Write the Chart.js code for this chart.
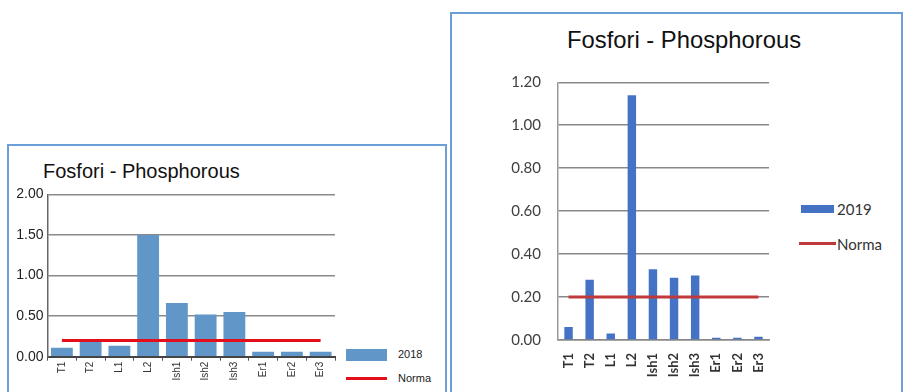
<!DOCTYPE html>
<html>
<head>
<meta charset="utf-8">
<script src="https://cdn.jsdelivr.net/npm/chart.js@4.4.1/dist/chart.umd.min.js"></script>
<style>
  body { margin: 0; width: 904px; height: 392px; overflow: hidden; background: #fff; position: relative; }
  .box { position: absolute; border: 2px solid #6a9fd8; box-sizing: border-box; }
  .title { position: absolute; font-family: "Liberation Sans", Arial, sans-serif; color: #111; white-space: nowrap; }
  .lg { position: absolute; }
  .lt { position: absolute; white-space: nowrap; color: #222; }
  canvas { position: absolute; }
</style>
</head>
<body>
<div class="box" style="left:7px; top:144px; width:440px; height:270px;"></div>
<div class="box" style="left:450px; top:12px; width:453px; height:400px;"></div>

<div class="title" style="left:43px; top:160px; font-size:20px;">Fosfori - Phosphorous</div>
<div class="title" style="left:567px; top:26px; font-size:23.8px;">Fosfori - Phosphorous</div>

<canvas id="chart2018" width="330" height="207" style="left:10px; top:185px;"></canvas>
<canvas id="chart2019" width="280" height="322" style="left:500px; top:70px;"></canvas>

<!-- legends -->
<div class="lg" style="left:346px; top:349px; width:41px; height:12px; background:#6097c8;"></div>
<div class="lt" style="left:398px; top:348px; font:11px 'Liberation Sans', Arial, sans-serif;">2018</div>
<div class="lg" style="left:346px; top:377px; width:41px; height:3px; background:#e3101b;"></div>
<div class="lt" style="left:398px; top:372px; font:11px 'Liberation Sans', Arial, sans-serif;">Norma</div>

<div class="lg" style="left:801px; top:205px; width:33px; height:8px; background:#4472c4;"></div>
<div class="lt" style="left:837px; top:200px; font:15px Lato, sans-serif; color:#333;">2019</div>
<div class="lg" style="left:799px; top:242px; width:37px; height:3px; background:#c0393b;"></div>
<div class="lt" style="left:837px; top:235px; font:15px Lato, sans-serif; color:#333;">Norma</div>

<script>
var categories = ['T1', 'T2', 'L1', 'L2', 'Ish1', 'Ish2', 'Ish3', 'Er1', 'Er2', 'Er3'];
var values2018 = [0.11, 0.19, 0.135, 1.5, 0.66, 0.52, 0.55, 0.06, 0.06, 0.06];
var values2019 = [0.06, 0.28, 0.03, 1.14, 0.33, 0.29, 0.30, 0.01, 0.01, 0.015];
var norma = [0.2, 0.2, 0.2, 0.2, 0.2, 0.2, 0.2, 0.2, 0.2, 0.2];
var ticks2018 = [0, 0.5, 1.0, 1.5, 2.0];
var ticks2019 = [0, 0.2, 0.4, 0.6, 0.8, 1.0, 1.2];

Chart.defaults.animation = false;

// 2018 chart (left)
new Chart(document.getElementById('chart2018'), {
  type: 'bar',
  data: {
    labels: categories,
    datasets: [
      {
        type: 'line',
        label: 'Norma',
        data: norma,
        borderColor: '#e3101b',
        borderWidth: 3,
        pointRadius: 0,
        order: 0
      },
      {
        label: '2018',
        data: values2018,
        backgroundColor: '#6097c8',
        barPercentage: 0.76,
        categoryPercentage: 1,
        order: 1
      }
    ]
  },
  options: {
    responsive: false,
    layout: { padding: { top: 9.3, right: 5, left: 0, bottom: 0 } },
    plugins: { legend: { display: false }, tooltip: { enabled: false } },
    scales: {
      x: {
        grid: { display: true, drawOnChartArea: false, drawTicks: true, tickLength: 4, color: '#555', offset: true },
        border: { color: '#444', width: 2 },
        ticks: { minRotation: 90, maxRotation: 90, padding: 1, color: '#333', font: { family: 'Liberation Sans', size: 10 } },
        afterFit: function(scale) { scale.height = 35.3; }
      },
      y: {
        min: 0,
        max: 2,
        afterBuildTicks: function(scale) { scale.ticks = ticks2018.map(function(v) { return { value: v }; }); },
        ticks: { padding: 0, color: '#222', font: { family: 'Liberation Sans', size: 14 },
          callback: function(v) { return v.toFixed(2); } },
        // transparent tick marks keep the labels away from the axis
        grid: { color: '#8a8a8a', lineWidth: 1.5, drawTicks: true, tickLength: 4, tickColor: 'rgba(0,0,0,0)' },
        border: { color: '#666', width: 1.5 },
        afterFit: function(scale) { scale.width = 37.5; }
      }
    }
  }
});

// 2019 chart (right)
new Chart(document.getElementById('chart2019'), {
  type: 'bar',
  data: {
    labels: categories,
    datasets: [
      {
        type: 'line',
        label: 'Norma',
        data: norma,
        borderColor: '#c0393b',
        borderWidth: 3,
        pointRadius: 0,
        order: 0
      },
      {
        label: '2019',
        data: values2019,
        backgroundColor: '#4472c4',
        barPercentage: 0.4,
        categoryPercentage: 1,
        order: 1
      }
    ]
  },
  options: {
    responsive: false,
    layout: { padding: { top: 12.3, right: 11, left: 0, bottom: 0 } },
    plugins: { legend: { display: false }, tooltip: { enabled: false } },
    scales: {
      x: {
        grid: { display: false },
        border: { color: '#888', width: 1.5 },
        ticks: { minRotation: 90, maxRotation: 90, padding: 5, color: '#333', font: { family: 'Lato', size: 13, weight: 'bold' } },
        afterFit: function(scale) { scale.height = 52; }
      },
      y: {
        min: 0,
        max: 1.2,
        afterBuildTicks: function(scale) { scale.ticks = ticks2019.map(function(v) { return { value: v }; }); },
        ticks: { padding: 0, color: '#404040', font: { family: 'Lato', size: 15 },
          callback: function(v) { return v.toFixed(2); } },
        grid: { color: '#888', lineWidth: 1.5, drawTicks: true, tickLength: 17, tickColor: 'rgba(0,0,0,0)' },
        border: { color: '#999', width: 1.5 },
        afterFit: function(scale) { scale.width = 58; }
      }
    }
  }
});
</script>
</body>
</html>
